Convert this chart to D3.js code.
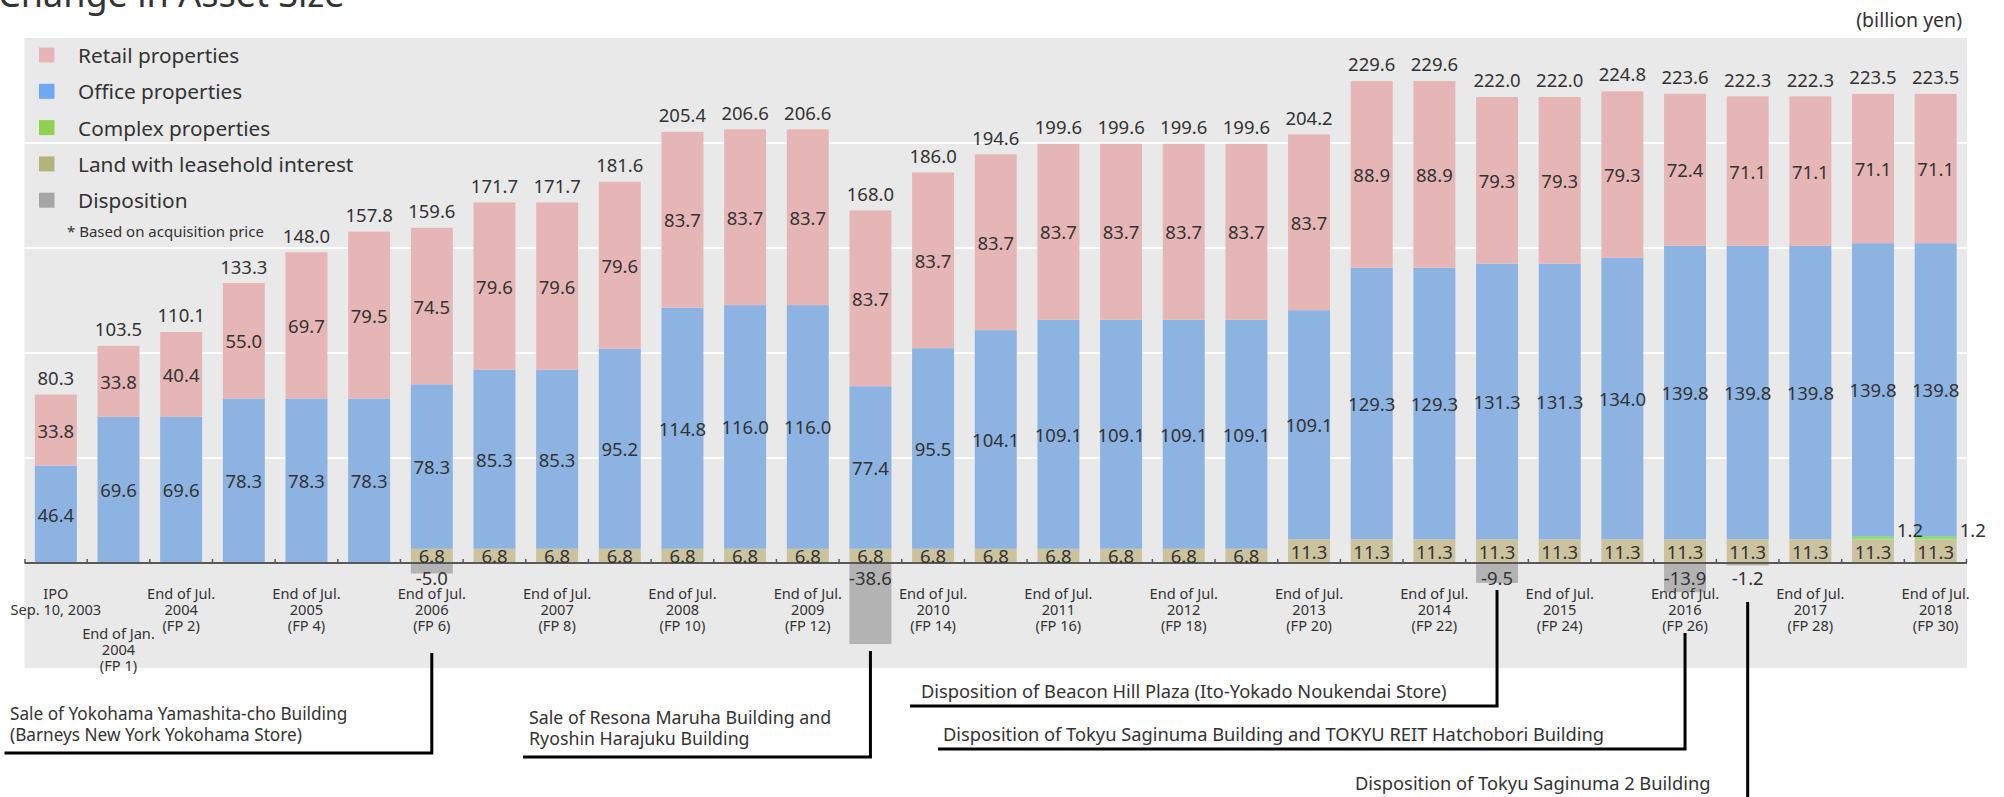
<!DOCTYPE html>
<html>
<head>
<meta charset="utf-8">
<script src="https://cdn.jsdelivr.net/npm/d3@7"></script>
<style>
  html, body { margin: 0; padding: 0; background: #ffffff; }
  svg { display: block; }
  text { font-family: "Noto Sans", "Open Sans", sans-serif; fill: #333333; }
</style>
</head>
<body>
<svg id="chart" width="2004" height="797"></svg>
<script>
// Fiscal periods: IPO plus FP 1 .. FP 30
const categories = ["IPO", "FP1", "FP2", "FP3", "FP4", "FP5", "FP6", "FP7", "FP8", "FP9",
  "FP10", "FP11", "FP12", "FP13", "FP14", "FP15", "FP16", "FP17", "FP18", "FP19",
  "FP20", "FP21", "FP22", "FP23", "FP24", "FP25", "FP26", "FP27", "FP28", "FP29", "FP30"];

// Asset size by property type (billion yen)
const landValues = [0, 0, 0, 0, 0, 0, 6.8, 6.8, 6.8, 6.8,
  6.8, 6.8, 6.8, 6.8, 6.8, 6.8, 6.8, 6.8, 6.8, 6.8,
  11.3, 11.3, 11.3, 11.3, 11.3, 11.3, 11.3, 11.3, 11.3, 11.3, 11.3];
const complexValues = [0, 0, 0, 0, 0, 0, 0, 0, 0, 0,
  0, 0, 0, 0, 0, 0, 0, 0, 0, 0,
  0, 0, 0, 0, 0, 0, 0, 0, 0, 1.2, 1.2];
const officeValues = [46.4, 69.6, 69.6, 78.3, 78.3, 78.3, 78.3, 85.3, 85.3, 95.2,
  114.8, 116.0, 116.0, 77.4, 95.5, 104.1, 109.1, 109.1, 109.1, 109.1,
  109.1, 129.3, 129.3, 131.3, 131.3, 134.0, 139.8, 139.8, 139.8, 139.8, 139.8];
const retailValues = [33.8, 33.8, 40.4, 55.0, 69.7, 79.5, 74.5, 79.6, 79.6, 79.6,
  83.7, 83.7, 83.7, 83.7, 83.7, 83.7, 83.7, 83.7, 83.7, 83.7,
  83.7, 88.9, 88.9, 79.3, 79.3, 79.3, 72.4, 71.1, 71.1, 71.1, 71.1];
const totalValues = [80.3, 103.5, 110.1, 133.3, 148.0, 157.8, 159.6, 171.7, 171.7, 181.6,
  205.4, 206.6, 206.6, 168.0, 186.0, 194.6, 199.6, 199.6, 199.6, 199.6,
  204.2, 229.6, 229.6, 222.0, 222.0, 224.8, 223.6, 222.3, 222.3, 223.5, 223.5];
const dispositionValues = [0, 0, 0, 0, 0, 0, -5.0, 0, 0, 0,
  0, 0, 0, -38.6, 0, 0, 0, 0, 0, 0,
  0, 0, 0, -9.5, 0, 0, -13.9, -1.2, 0, 0, 0];

// Category labels (multi-line)
const tickLabels = [
  ["IPO", "Sep. 10, 2003"], ["End of Jan.", "2004", "(FP 1)"], ["End of Jul.", "2004", "(FP 2)"], [],
  ["End of Jul.", "2005", "(FP 4)"], [], ["End of Jul.", "2006", "(FP 6)"], [],
  ["End of Jul.", "2007", "(FP 8)"], [], ["End of Jul.", "2008", "(FP 10)"], [],
  ["End of Jul.", "2009", "(FP 12)"], [], ["End of Jul.", "2010", "(FP 14)"], [],
  ["End of Jul.", "2011", "(FP 16)"], [], ["End of Jul.", "2012", "(FP 18)"], [],
  ["End of Jul.", "2013", "(FP 20)"], [], ["End of Jul.", "2014", "(FP 22)"], [],
  ["End of Jul.", "2015", "(FP 24)"], [], ["End of Jul.", "2016", "(FP 26)"], [],
  ["End of Jul.", "2017", "(FP 28)"], [], ["End of Jul.", "2018", "(FP 30)"]
];

const seriesKeys = ["land", "complex", "office", "retail"];
const legendItems = [
  { label: "Retail properties", color: "#e8b4b8" },
  { label: "Office properties", color: "#70a7f5" },
  { label: "Complex properties", color: "#92d050" },
  { label: "Land with leasehold interest", color: "#b4b37c" },
  { label: "Disposition", color: "#a6a6a6" }
];

// Disposition call-outs
const annotations = [
  { lines: ["Sale of Yokohama Yamashita-cho Building", "(Barneys New York Yokohama Store)"], cat: "FP6" },
  { lines: ["Sale of Resona Maruha Building and", "Ryoshin Harajuku Building"], cat: "FP13" },
  { lines: ["Disposition of Beacon Hill Plaza (Ito-Yokado Noukendai Store)"], cat: "FP23" },
  { lines: ["Disposition of Tokyu Saginuma Building and TOKYU REIT Hatchobori Building"], cat: "FP26" },
  { lines: ["Disposition of Tokyu Saginuma 2 Building"], cat: "FP27" }
];

const barColors = { land: "#cbc39d", complex: "#86e85a", office: "#8db3e2", retail: "#e6b6b6" };
const dispositionColor = "#b3b3b3";

const svg = d3.select("#chart");
const panel = { left: 24.5, right: 1967, top: 38, bottom: 668 };

const x = d3.scaleBand().domain(categories)
  .range([panel.left, panel.right]).paddingInner(0.33).paddingOuter(0.165);
const y = d3.scaleLinear().domain([-50, 250]).range([panel.bottom, panel.top]);
const fmt1 = d3.format(".1f");
const fmt = v => fmt1(v).replace("\u2212", "-");
const bw = x.bandwidth();
const cx = c => x(c) + bw / 2;

// Title and unit
svg.append("text").attr("x", -2).attr("y", 7)
  .attr("font-size", 36).text("Change in Asset Size");
svg.append("text").attr("x", 1962).attr("y", 27).attr("text-anchor", "end")
  .attr("font-size", 19.5).text("(billion yen)");

// Panel background and grid
svg.append("rect").attr("x", panel.left).attr("y", panel.top)
  .attr("width", panel.right - panel.left).attr("height", panel.bottom - panel.top)
  .attr("fill", "#e9e9e9");
svg.append("g").selectAll("line")
  .data(y.ticks(6).filter(v => v > 0 && v < 250))
  .join("line")
  .attr("x1", panel.left).attr("x2", panel.right)
  .attr("y1", d => y(d)).attr("y2", d => y(d))
  .attr("stroke", "#ffffff").attr("stroke-width", 2);

// Stacked bars
const table = categories.map((c, i) => ({
  cat: c, land: landValues[i], complex: complexValues[i],
  office: officeValues[i], retail: retailValues[i]
}));
const stacked = d3.stack().keys(seriesKeys)(table);

const layers = svg.append("g").selectAll("g").data(stacked).join("g")
  .attr("fill", d => barColors[d.key]);
layers.selectAll("rect").data(d => d.filter(s => s[1] > s[0])).join("rect")
  .attr("x", d => x(d.data.cat)).attr("width", bw)
  .attr("y", d => y(d[1])).attr("height", d => y(d[0]) - y(d[1]));

// Disposition bars
const dispData = categories.map((c, i) => ({ cat: c, v: dispositionValues[i] })).filter(d => d.v < 0);
svg.append("g").selectAll("rect").data(dispData).join("rect")
  .attr("x", d => x(d.cat)).attr("width", bw)
  .attr("y", y(0)).attr("height", d => y(d.v) - y(0))
  .attr("fill", dispositionColor);

// Baseline with small ticks between periods
const axis = svg.append("g").attr("stroke", "#595959");
axis.append("line").attr("x1", panel.left).attr("x2", panel.right)
  .attr("y1", y(0)).attr("y2", y(0)).attr("stroke-width", 2);
const boundaries = categories.map(c => x(c) - x.step() * x.paddingInner() / 2)
  .concat([panel.right - 0.5]);
boundaries[0] = panel.left + 0.5;
axis.selectAll("line.tick").data(boundaries).join("line").attr("class", "tick")
  .attr("x1", d => d).attr("x2", d => d)
  .attr("y1", y(0)).attr("y2", y(0) - 4).attr("stroke-width", 1.5);

// Segment value labels
const valueSize = 18.5;
const segLabels = svg.append("g").attr("font-size", valueSize).attr("text-anchor", "middle");
stacked.filter(s => s.key !== "complex").forEach(layer => {
  segLabels.selectAll(null).data(layer.filter(s => s[1] > s[0])).join("text")
    .attr("x", d => cx(d.data.cat))
    .attr("y", d => (y(d[0]) + y(d[1])) / 2)
    .attr("dominant-baseline", "central")
    .text(d => fmt(d[1] - d[0]));
});
// Complex labels sit to the right of the thin segment
const complexLayer = stacked.find(s => s.key === "complex");
svg.append("g").attr("font-size", valueSize).selectAll("text")
  .data(complexLayer.filter(s => s[1] > s[0])).join("text")
  .attr("x", d => x(d.data.cat) + bw + 3)
  .attr("y", d => y(d[1]) - 7)
  .attr("dominant-baseline", "central")
  .text(d => fmt(d[1] - d[0]));

// Totals above bars
svg.append("g").attr("font-size", valueSize).attr("text-anchor", "middle")
  .selectAll("text").data(categories.map((c, i) => ({ cat: c, v: totalValues[i] }))).join("text")
  .attr("x", d => cx(d.cat)).attr("y", d => y(d.v) - 17)
  .attr("dominant-baseline", "central")
  .text(d => fmt(d.v));

// Disposition labels
svg.append("g").attr("font-size", valueSize).attr("text-anchor", "middle")
  .selectAll("text").data(dispData).join("text")
  .attr("x", d => cx(d.cat)).attr("y", y(0) + 14)
  .attr("dominant-baseline", "central")
  .text(d => fmt(d.v));

// Category labels
const catG = svg.append("g").attr("font-size", 14.6).attr("text-anchor", "middle");
categories.forEach((c, i) => {
  const top = i === 1 ? 633 : 593;
  tickLabels[i].forEach((line, k) => {
    catG.append("text").attr("x", cx(c)).attr("y", top + k * 16)
      .attr("dominant-baseline", "central").text(line);
  });
});

// Legend
const legend = svg.append("g");
legendItems.forEach((item, i) => {
  const yy = 55 + i * 36.3;
  legend.append("rect").attr("x", 39).attr("y", yy - 7.5).attr("width", 15.5).attr("height", 15)
    .attr("fill", item.color);
  legend.append("text").attr("x", 78).attr("y", yy).attr("font-size", 20.8)
    .attr("dominant-baseline", "central").text(item.label);
});
legend.append("text").attr("x", 67).attr("y", 231).attr("font-size", 15)
  .attr("dominant-baseline", "central").text("*  Based on acquisition price");

// Call-outs below the chart
const callouts = [
  { text: [10, 713], size: 17.2, line: [[cx("FP6"), 653], [cx("FP6"), 753], [4.5, 753]] },
  { text: [529, 717], size: 17.8, line: [[cx("FP13"), 651], [cx("FP13"), 757], [523, 757]] },
  { text: [921, 690], size: 18.3, line: [[cx("FP23"), 590], [cx("FP23"), 706], [910, 706]] },
  { text: [943, 733], size: 18.3, line: [[cx("FP26"), 633], [cx("FP26"), 749], [938, 749]] },
  { text: [1355, 782], size: 18.3, line: [[cx("FP27"), 602], [cx("FP27"), 800]] }
];
const ann = svg.append("g");
annotations.forEach((a, i) => {
  const co = callouts[i];
  a.lines.forEach((line, k) => {
    ann.append("text").attr("x", co.text[0]).attr("y", co.text[1] + k * 21)
      .attr("font-size", co.size).attr("dominant-baseline", "central").text(line);
  });
  ann.append("path").attr("d", d3.line()(co.line))
    .attr("fill", "none").attr("stroke", "#000000").attr("stroke-width", 3);
});
</script>
</body>
</html>
